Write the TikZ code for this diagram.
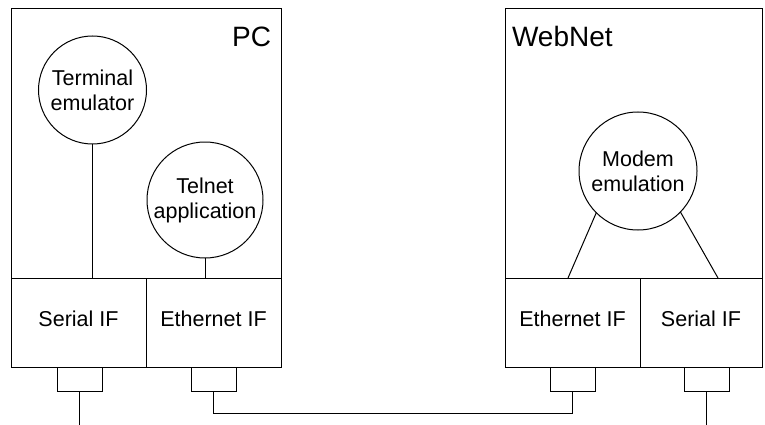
\documentclass[tikz,border=0pt]{standalone}
\usepackage{fontspec}
\setmainfont{Liberation Sans}
\begin{document}
\begin{tikzpicture}[x=1pt,y=-1pt,
  every node/.style={inner sep=0pt,outer sep=0pt},
  line/.style={draw=black,line width=1pt},
  box/.style={line,rectangle},
  ifbox/.style={line,rectangle,minimum width=135pt,minimum height=89pt},
  iflbl/.style={font=\fontsize{21.5}{25}\selectfont},
  circ/.style={line,circle,minimum size=#1,align=center,font=\fontsize{21.5}{25}\selectfont},
  plug/.style={line,rectangle,minimum width=45pt,minimum height=24pt},
  title/.style={font=\fontsize{28}{32}\selectfont}]
\useasboundingbox (0,0) rectangle (765,425);
% device boxes
\node[box,minimum width=270pt,minimum height=358pt] (pc) at (146,188) {};
\node[box,minimum width=257pt,minimum height=358pt] (wn) at (633.5,188) {};
\node[title,anchor=base east] (pclbl) at (271,47) {PC};
\node[title,anchor=base west] (wnlbl) at (512,47) {WebNet};
% interfaces
\node[ifbox] (ser1) at (78.5,322.5) {};
\node[ifbox] (eth1) at (213.5,322.5) {};
\node[ifbox] (eth2) at (572.5,322.5) {};
\node[ifbox,minimum width=122pt] (ser2) at (701,322.5) {};
\node[iflbl] (ser1l) at (78.5,319) {Serial IF};
\node[iflbl] (eth1l) at (213.5,319) {Ethernet IF};
\node[iflbl] (eth2l) at (572.5,319) {Ethernet IF};
\node[iflbl] (ser2l) at (701,319) {Serial IF};
% applications
\node[circ=108pt] (term) at (92.5,90) {Terminal\\emulator};
\node[circ=116pt] (tel) at (205,200) {Telnet\\application};
\node[circ=118pt] (mod) at (638,171) {Modem\\emulation};
\coordinate (tb) at (92.5,278);
\coordinate (lb) at (205,278);
\coordinate (ml) at (568,278);
\coordinate (mr) at (718,278);
\draw[line] (term.south) -- (tb);
\draw[line] (tel.south) -- (lb);
\draw[line] (mod.225) -- (ml);
\draw[line] (mod.316) -- (mr);
% plugs
\node[plug] (p1) at (79.5,379) {};
\node[plug] (p2) at (213.5,379) {};
\node[plug] (p3) at (572.5,379) {};
\node[plug] (p4) at (706.5,379) {};
\coordinate (e1) at (79.5,425);
\coordinate (e4) at (706.5,425);
\draw[line] (p1.south) -- (e1);
\draw[line] (p4.south) -- (e4);
\draw[line] (p2.south) -- ++(0,22) -| (p3.south);
\end{tikzpicture}
\end{document}
